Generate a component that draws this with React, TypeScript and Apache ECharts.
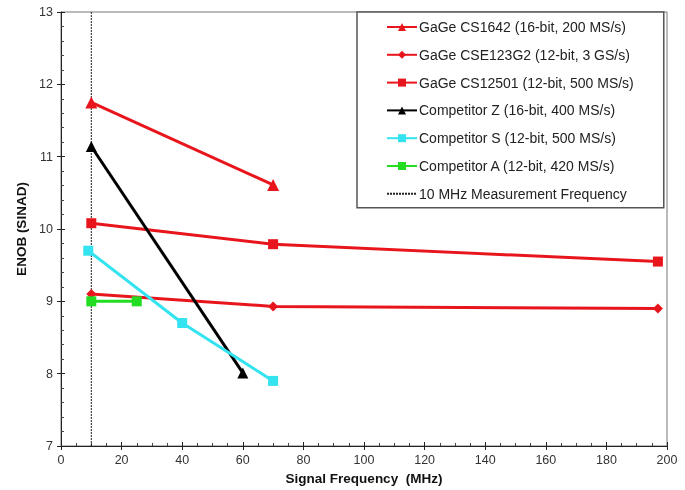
import React, { useEffect, useRef } from "react";
import * as echarts from "echarts";

const seriesNames = [
  "GaGe CS1642 (16-bit, 200 MS/s)",
  "GaGe CSE123G2 (12-bit, 3 GS/s)",
  "GaGe CS12501 (12-bit, 500 MS/s)",
  "Competitor Z (16-bit, 400 MS/s)",
  "Competitor S (12-bit, 500 MS/s)",
  "Competitor A (12-bit, 420 MS/s)",
  "10 MHz Measurement Frequency",
];

const cs1642: [number, number][] = [[10, 11.75], [70, 10.61]];
const cse123g2: [number, number][] = [[10, 9.1], [70, 8.93], [197, 8.9]];
const cs12501: [number, number][] = [[10, 10.08], [70, 9.79], [197, 9.55]];
const competitorZ: [number, number][] = [[10, 11.14], [60, 8.01]];
const competitorS: [number, number][] = [[9, 9.7], [40, 8.7], [70, 7.9]];
const competitorA: [number, number][] = [[10, 9.0], [25, 9.0]];
const measurementLine: [number, number][] = [[10, 7], [10, 13]];

const RED = "#e8161c";
const FONT = "Liberation Sans, Arial, sans-serif";

export default function App() {
  const ref = useRef<HTMLDivElement>(null);
  useEffect(() => {
    if (!ref.current) return;
    const chart = echarts.init(ref.current, null, { renderer: "svg" });
    const mk = (
      name: string,
      data: [number, number][],
      color: string,
      symbol: string,
      symbolSize: number
    ) => ({
      name,
      type: "line",
      data,
      symbol,
      symbolSize,
      showSymbol: true,
      lineStyle: { color, width: 3 },
      itemStyle: { color },
      z: 3,
    });
    chart.setOption({
      animation: false,
      textStyle: { fontFamily: FONT },
      grid: { left: 61, right: 18, top: 12, bottom: 44, show: true, borderColor: "#777", borderWidth: 1 },
      legend: {
        orient: "vertical",
        left: 357,
        top: 12,
        width: 305,
        backgroundColor: "#fff",
        borderColor: "#555",
        borderWidth: 1.5,
        padding: [8, 30, 7, 29],
        itemWidth: 30,
        itemHeight: 10,
        itemGap: 13.8,
        textStyle: { fontSize: 14, color: "#222", fontFamily: FONT, padding: [0, 0, 0, -3] },
        data: seriesNames,
      },
      xAxis: [
        {
          type: "value",
          min: 0,
          max: 200,
          interval: 20,
          name: "Signal Frequency  (MHz)",
          nameLocation: "middle",
          nameGap: 25,
          nameTextStyle: { fontSize: 13.5, fontWeight: "bold", color: "#111" },
          axisLine: { lineStyle: { color: "#222", width: 1 } },
          axisTick: { show: true, length: 4, lineStyle: { color: "#222" } },
          axisLabel: { fontSize: 12.5, color: "#333", margin: 7 },
          splitLine: { show: false },
        },
        {
          type: "value",
          min: 0,
          max: 200,
          interval: 20,
          position: "bottom",
          axisLine: { show: false },
          axisLabel: { show: false },
          axisTick: { show: true, inside: true, length: 4, lineStyle: { color: "#222" } },
          minorTick: { show: true, splitNumber: 4, length: 3, lineStyle: { color: "#444" } },
          splitLine: { show: false },
        },
      ],
      yAxis: [
        {
          type: "value",
          min: 7,
          max: 13,
          interval: 1,
          name: "ENOB (SINAD)",
          nameLocation: "middle",
          nameGap: 32,
          nameTextStyle: { fontSize: 13.5, fontWeight: "bold", color: "#111" },
          axisLine: { show: true, lineStyle: { color: "#222", width: 1 } },
          axisTick: { show: true, length: 4, lineStyle: { color: "#222" } },
          axisLabel: { fontSize: 12.5, color: "#333", margin: 8 },
          splitLine: { show: false },
        },
        {
          type: "value",
          min: 7,
          max: 13,
          interval: 1,
          position: "left",
          axisLine: { show: false },
          axisLabel: { show: false },
          axisTick: { show: true, inside: true, length: 4, lineStyle: { color: "#222" } },
          minorTick: { show: true, splitNumber: 5, length: 3, lineStyle: { color: "#444" } },
          splitLine: { show: false },
        },
      ],
      series: [
        mk(seriesNames[0], cs1642, RED, "triangle", 12),
        mk(seriesNames[1], cse123g2, RED, "diamond", 10),
        mk(seriesNames[2], cs12501, RED, "rect", 10),
        mk(seriesNames[3], competitorZ, "#000000", "triangle", 11),
        mk(seriesNames[4], competitorS, "#33e3ef", "rect", 10),
        mk(seriesNames[5], competitorA, "#22dd22", "rect", 10),
        {
          name: seriesNames[6],
          type: "line",
          data: measurementLine,
          symbol: "circle",
          showSymbol: false,
          lineStyle: { color: "#222", width: 1, type: [2, 1] },
          itemStyle: { color: "rgba(0,0,0,0)", borderWidth: 0 },
          z: 1,
        },
      ],
    });
    return () => chart.dispose();
  }, []);
  return <div ref={ref} style={{ position: "fixed", left: 0, top: 0, width: 685, height: 490 }} />;
}
